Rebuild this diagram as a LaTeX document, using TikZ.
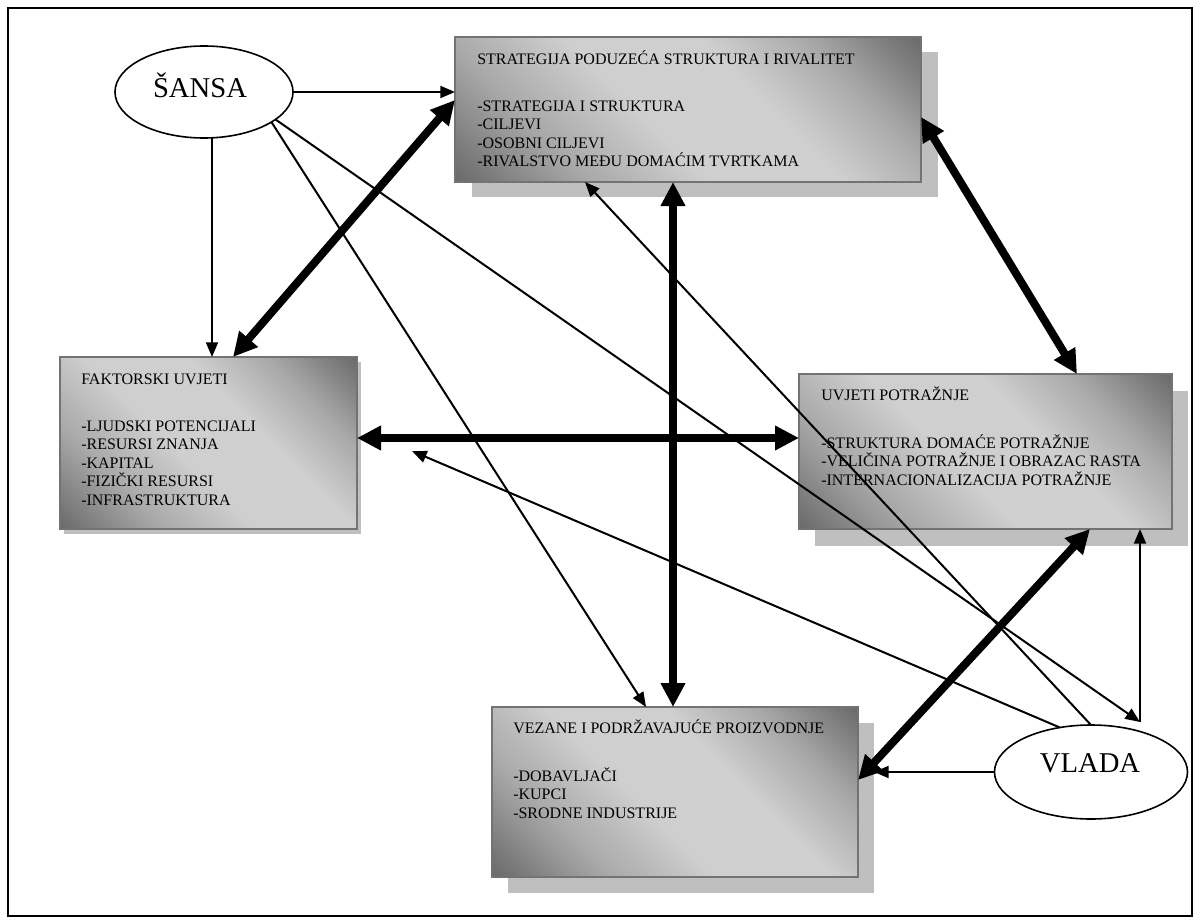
\documentclass[tikz,border=0pt]{standalone}
\usepackage{fontspec}
\setmainfont{Liberation Serif}
\usetikzlibrary{arrows.meta,shapes.geometric,calc}
\definecolor{gdark}{gray}{0.42}
\definecolor{gmid}{gray}{0.66}
\definecolor{glight}{gray}{0.81}
\definecolor{shadowgray}{gray}{0.75}
\definecolor{edgegray}{gray}{0.45}
\pgfdeclarehorizontalshading{boxshade}{100bp}{color(0bp)=(gdark); color(15bp)=(gdark); color(30bp)=(gmid); color(44bp)=(glight); color(60bp)=(glight); color(72bp)=(gmid); color(85bp)=(gdark); color(100bp)=(gdark)}
\begin{document}
\begin{tikzpicture}[x=0.75pt,y=-0.75pt,
  panel/.style={rectangle, draw=edgegray, line width=1.5pt, shading=boxshade, shading angle=45, anchor=north west, inner sep=0pt, outer sep=0pt},
  shadowbox/.style={rectangle, fill=shadowgray, anchor=north west, inner sep=0pt, outer sep=0pt},
  txt/.style={anchor=base west, inner sep=0pt, align=left, font=\fontsize{12pt}{13.875pt}\selectfont},
  oval/.style={ellipse, draw, line width=1.2pt, fill=white, inner sep=0pt, outer sep=0pt},
  ovaltxt/.style={anchor=base, inner sep=0pt, font=\fontsize{21.5pt}{24pt}\selectfont},
  thinarrow/.style={line width=1.5pt, -{Triangle[length=11pt,width=9pt]}},
  thickarrow/.style={line width=6pt, {Triangle[length=18pt,width=17.5pt]}-{Triangle[length=18pt,width=17.5pt]}},
]
\path[use as bounding box] (0,0) rectangle (1200,924);
\draw[line width=1.5pt] (8,8) rectangle (1192,916);

% shadows
\node[shadowbox, minimum width=349.5pt, minimum height=108.75pt] (topsh) at (472,52) {};
\node[shadowbox, minimum width=222.75pt, minimum height=129pt] (leftsh) at (64,362) {};
\node[shadowbox, minimum width=279.75pt, minimum height=116.25pt] (rightsh) at (815,391) {};
\node[shadowbox, minimum width=274.5pt, minimum height=127.5pt] (botsh) at (508,723) {};

% boxes
\node[panel, minimum width=349.5pt, minimum height=108.75pt] (top) at (455,37) {};
\node[panel, minimum width=222.75pt, minimum height=129pt] (left) at (60,357) {};
\node[panel, minimum width=279.75pt, minimum height=116.25pt] (right) at (799,374) {};
\node[panel, minimum width=274.5pt, minimum height=127.5pt] (bot) at (492,707) {};

% texts (base of a multi-line node = baseline of its last line)
\node[txt] (toptitle) at (477,64.5) {STRATEGIJA PODUZEĆA STRUKTURA I RIVALITET};
\node[txt] (toplist) at (477,166.8) {-STRATEGIJA I STRUKTURA\\-CILJEVI\\-OSOBNI CILJEVI\\-RIVALSTVO MEĐU DOMAĆIM TVRTKAMA};
\node[txt] (lefttitle) at (81,384.3) {FAKTORSKI UVJETI};
\node[txt] (leftlist) at (81,505.3) {-LJUDSKI POTENCIJALI\\-RESURSI ZNANJA\\-KAPITAL\\-FIZIČKI RESURSI\\-INFRASTRUKTURA};
\node[txt] (righttitle) at (821,400.3) {UVJETI POTRAŽNJE};
\node[txt] (rightlist) at (821,485.3) {-STRUKTURA DOMAĆE POTRAŽNJE\\-VELIČINA POTRAŽNJE I OBRAZAC RASTA\\-INTERNACIONALIZACIJA POTRAŽNJE};
\node[txt] (bottitle) at (513,733.3) {VEZANE I PODRŽAVAJUĆE PROIZVODNJE};
\node[txt] (botlist) at (513,818.3) {-DOBAVLJAČI\\-KUPCI\\-SRODNE INDUSTRIJE};

% ellipses
\node[oval, minimum width=133.5pt, minimum height=69pt] (sansa) at (204,92) {};
\node[ovaltxt] (sansatxt) at (200,97.5) {ŠANSA};
\node[oval, minimum width=144.75pt, minimum height=70.5pt] (vlada) at (1091,772) {};
\node[ovaltxt] (vladatxt) at (1090,772.5) {VLADA};

% attachment points
\coordinate (t3) at ($(top.north west)+(0,63)$);
\coordinate (l3) at ($(left.north west)+(173,0)$);
\coordinate (t6) at ($(top.south west)+(130,0)$);
\coordinate (t7) at ($(top.south west)+(218,0)$);
\coordinate (t8) at ($(top.north east)+(0,80)$);
\coordinate (r8) at ($(right.north west)+(278,0)$);
\coordinate (l9) at ($(left.north east)+(0,81)$);
\coordinate (b12) at ($(bot.north east)+(0,73)$);
\coordinate (r12) at ($(right.south west)+(291,0)$);
\coordinate (b4) at ($(bot.north west)+(154,0)$);
\coordinate (s2) at ($(sansa.south)+(8,0)$);
\coordinate (vc) at (1140,722);
\coordinate (lfree) at (412,451);

% thin connectors
\draw[thinarrow] (sansa.east) -- (sansa.east -| top.west);
\draw[thinarrow] (s2) -- (s2 |- left.north);
\draw[thinarrow] (sansa.-24.4) -- (b4);
\draw[thinarrow] (sansa.-21.4) -- (vc);
\draw[thinarrow] (vlada.north) -- (t6);
\draw[thinarrow] (vlada.125) -- (lfree);
\draw[thinarrow] (vlada.west) -- (vlada.west -| botsh.east);
\draw[thinarrow] (vc) -- (vc |- right.south);

% thick connectors
\draw[thickarrow] (l3) -- (t3);
\draw[thickarrow] (t7) -- (t7 |- bot.north);
\draw[thickarrow] (t8) -- (r8);
\draw[thickarrow] (l9) -- (l9 -| right.west);
\draw[thickarrow] (b12) -- (r12);
\end{tikzpicture}
\end{document}
